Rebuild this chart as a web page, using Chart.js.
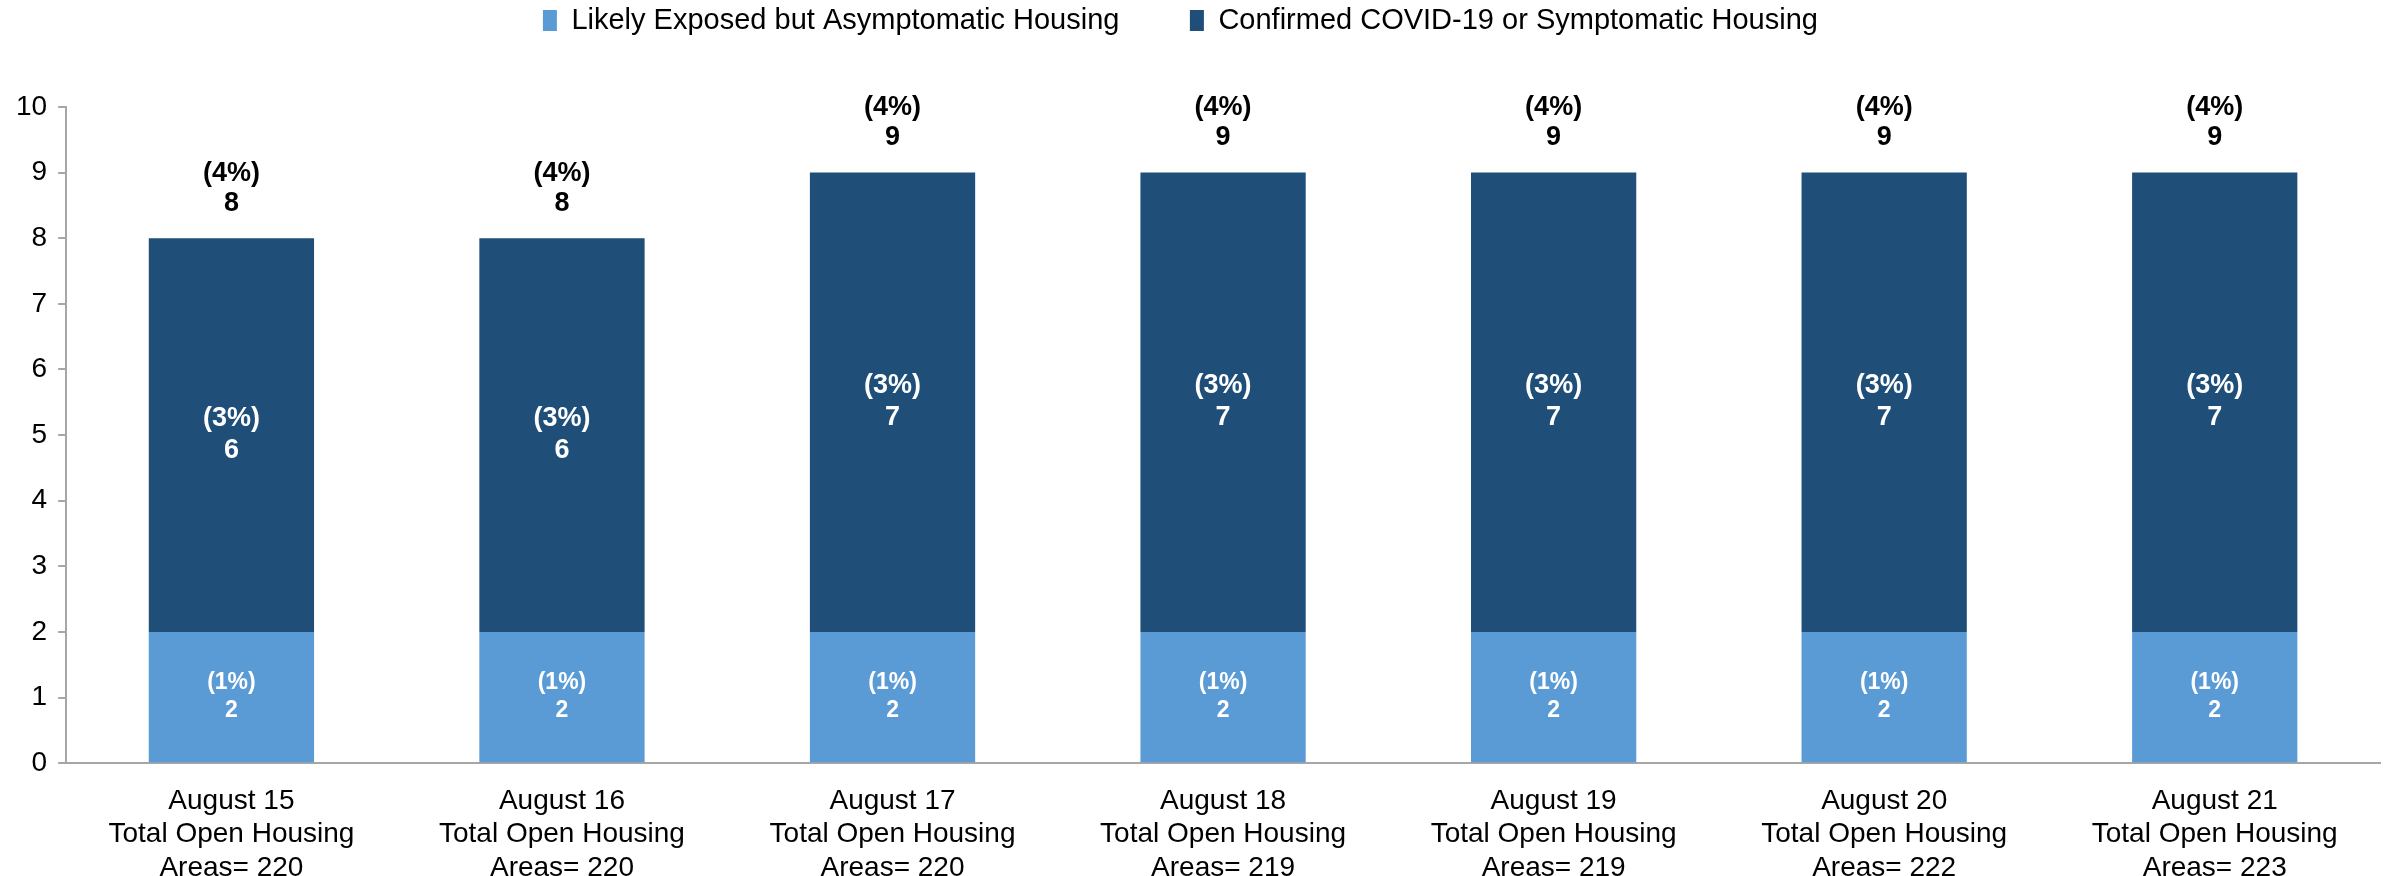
<!DOCTYPE html>
<html>
<head>
<meta charset="utf-8">
<script src="https://cdn.jsdelivr.net/npm/chart.js@4"></script>
<style>
  html, body { margin: 0; padding: 0; background: #ffffff; }
  #wrap { width: 2394px; height: 876px; }
</style>
</head>
<body>
<div id="wrap"><canvas id="bar-chart" width="2394" height="876"></canvas></div>
<script>
const days = ["August 15", "August 16", "August 17", "August 18", "August 19", "August 20", "August 21"];
const openAreas = [220, 220, 220, 219, 219, 222, 223];
const exposed = [2, 2, 2, 2, 2, 2, 2];
const confirmed = [6, 6, 7, 7, 7, 7, 7];
const totals = [8, 8, 9, 9, 9, 9, 9];
const exposedPct = ["(1%)", "(1%)", "(1%)", "(1%)", "(1%)", "(1%)", "(1%)"];
const confirmedPct = ["(3%)", "(3%)", "(3%)", "(3%)", "(3%)", "(3%)", "(3%)"];
const totalPct = ["(4%)", "(4%)", "(4%)", "(4%)", "(4%)", "(4%)", "(4%)"];
const yTicks = [0, 1, 2, 3, 4, 5, 6, 7, 8, 9, 10];

const FONT = "'Liberation Sans', Arial, sans-serif";
const labels = days.map((d, i) => [d, "Total Open Housing", "Areas= " + openAreas[i]]);

// legend height pushes plot area down
const legendSpace = {
  id: "legendSpace",
  beforeInit(chart) {
    const fit = chart.legend.fit;
    chart.legend.fit = function () {
      fit.bind(chart.legend)();
      this.height = 107;
    };
  },
};

const barLabels = {
  id: "barLabels",
  afterDatasetsDraw(chart) {
    const ctx = chart.ctx;
    const low = chart.getDatasetMeta(0).data;
    const high = chart.getDatasetMeta(1).data;
    ctx.save();
    ctx.textAlign = "center";
    ctx.textBaseline = "middle";
    low.forEach((bar, i) => {
      const mid = (bar.y + bar.base) / 2;
      ctx.fillStyle = "#ffffff";
      ctx.font = "bold 23px " + FONT;
      ctx.fillText(exposedPct[i], bar.x, mid - 14);
      ctx.fillText(String(exposed[i]), bar.x, mid + 14);
    });
    high.forEach((bar, i) => {
      const mid = (bar.y + bar.base) / 2;
      ctx.fillStyle = "#ffffff";
      ctx.font = "bold 27px " + FONT;
      ctx.fillText(confirmedPct[i], bar.x, mid - 17);
      ctx.fillText(String(confirmed[i]), bar.x, mid + 15);
      const top = chart.scales.y.getPixelForValue(totals[i]);
      ctx.fillStyle = "#000000";
      ctx.fillText(totalPct[i], bar.x, top - 65);
      ctx.fillText(String(totals[i]), bar.x, top - 35);
    });
    ctx.restore();
  },
};

const config = {
  type: "bar",
  data: {
    labels: labels,
    datasets: [
      {
        label: "Likely Exposed but Asymptomatic Housing",
        data: exposed,
        backgroundColor: "#5B9BD5",
      },
      {
        label: "Confirmed COVID-19 or Symptomatic Housing",
        data: confirmed,
        backgroundColor: "#1F4E79",
      },
    ],
  },
  options: {
    responsive: false,
    animation: false,
    layout: { padding: { left: 5, right: 14, top: 0, bottom: -22 } },
    datasets: { bar: { categoryPercentage: 1, barPercentage: 0.5 } },
    scales: {
      x: {
        stacked: true,
        grid: { display: false },
        border: { display: true, color: "#A6A6A6", width: 2 },
        ticks: {
          color: "#000000",
          font: { family: FONT, size: 28, lineHeight: 1.2 },
          padding: 13,
          maxRotation: 0,
          autoSkip: false,
        },
      },
      y: {
        stacked: true,
        min: 0,
        max: 10,
        afterBuildTicks(scale) {
          scale.ticks = yTicks.map((v) => ({ value: v }));
        },
        grid: { display: true, drawOnChartArea: false, drawTicks: true, tickLength: 8, color: "#A6A6A6", lineWidth: 2 },
        border: { display: true, color: "#A6A6A6", width: 2 },
        ticks: {
          color: "#000000",
          font: { family: FONT, size: 28 },
          padding: 11,
        },
      },
    },
    plugins: {
      legend: {
        display: true,
        position: "top",
        labels: {
          color: "#000000",
          font: { family: FONT, size: 29 },
          boxWidth: 14,
          boxHeight: 21,
          padding: 6,
          generateLabels(chart) {
            const items = Chart.defaults.plugins.legend.labels.generateLabels(chart);
            items[0].text = items[0].text + "        ";
            items[1].text = items[1].text + "   ";
            return items;
          },
        },
      },
      tooltip: { enabled: false },
    },
  },
  plugins: [legendSpace, barLabels],
};

new Chart(document.getElementById("bar-chart").getContext("2d"), config);
</script>
</body>
</html>
